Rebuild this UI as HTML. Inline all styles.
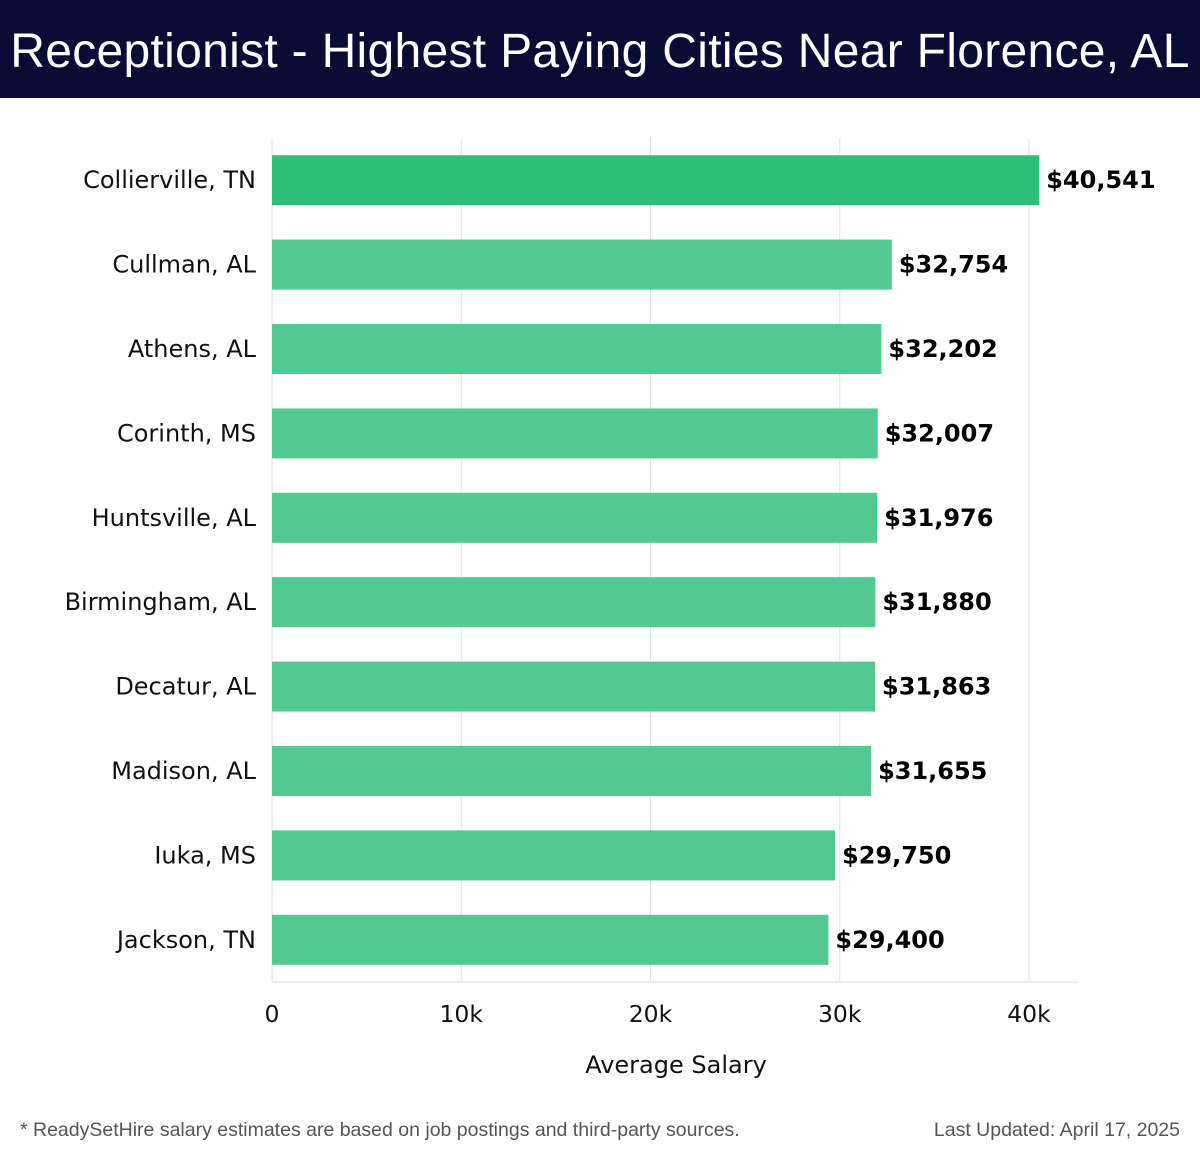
<!DOCTYPE html>
<html><head><meta charset="utf-8"><style>
body{margin:0;width:1200px;height:1158px;background:#fff;font-family:"Liberation Sans","DejaVu Sans",sans-serif;position:relative;overflow:hidden}
#hdr{position:absolute;left:0;top:0;width:1200px;height:98px;background:#0b0c36;color:#fff;font-size:48px;line-height:104px;text-align:center;white-space:nowrap;letter-spacing:0.3px}
.foot{position:absolute;top:1119px;font-size:19.5px;color:#555}
</style></head><body>
<div id="hdr">Receptionist - Highest Paying Cities Near Florence, AL</div>
<svg id="chart" width="1200" height="1158" style="position:absolute;left:0;top:0;font-family:'DejaVu Sans',sans-serif"></svg>
<div class="foot" style="left:20px">* ReadySetHire salary estimates are based on job postings and third-party sources.</div>
<div class="foot" style="right:20px">Last Updated: April 17, 2025</div>
<script>
const categories=["Collierville, TN","Cullman, AL","Athens, AL","Corinth, MS","Huntsville, AL","Birmingham, AL","Decatur, AL","Madison, AL","Iuka, MS","Jackson, TN"];
const values=[40541,32754,32202,32007,31976,31880,31863,31655,29750,29400];
const tickValues=[0,10000,20000,30000,40000];
const tickLabels=["0","10k","20k","30k","40k"];
const NS="http://www.w3.org/2000/svg";
const svg=document.getElementById('chart');
const x0=272,pxPer=(1029-272)/40000,plotTop=138,plotBot=982,plotRight=1079;
const band=(plotBot-plotTop)/categories.length;
const x=v=>x0+v*pxPer;
const y=i=>plotTop+band*i+band/2;
function mk(t,a){const e=document.createElementNS(NS,t);for(const k in a)e.setAttribute(k,a[k]);svg.appendChild(e);return e;}
tickValues.forEach((v,i)=>{
 const g=mk('line',{x1:x(v),x2:x(v),y1:plotTop,y2:plotBot,stroke:'#e3e3e3','stroke-width':1});
 
 
 const t=mk('text',{x:x(v),y:1022,'font-size':23.5,'text-anchor':'middle',fill:'#111'});
 t.textContent=tickLabels[i];
 
 
});
const ax=mk('line',{x1:x0,x2:plotRight,y1:plotBot,y2:plotBot,stroke:'#ddd','stroke-width':1});


const ay=mk('line',{x1:x0,x2:x0,y1:plotTop,y2:plotBot,stroke:'#ddd','stroke-width':1});


categories.forEach((c,i)=>{
 const cy=y(i);
 const r=mk('rect',{x:x0,y:cy-25,width:x(values[i])-x0,height:50,fill:i===0?'#2dbf78':'#52c990'});
 
 
 const l=mk('text',{x:256,y:cy+8,'font-size':24,'text-anchor':'end',fill:'#111'});
 l.textContent=c;
 
 
 const v=mk('text',{x:x(values[i])+7,y:cy+8,'font-size':24,'font-weight':'bold',fill:'#000'});
 v.textContent='$'+values[i].toLocaleString('en-US');
 
 
});
const xt=mk('text',{x:676,y:1073,'font-size':24,'text-anchor':'middle',fill:'#111'});
xt.textContent='Average Salary';


</script>
</body></html>
